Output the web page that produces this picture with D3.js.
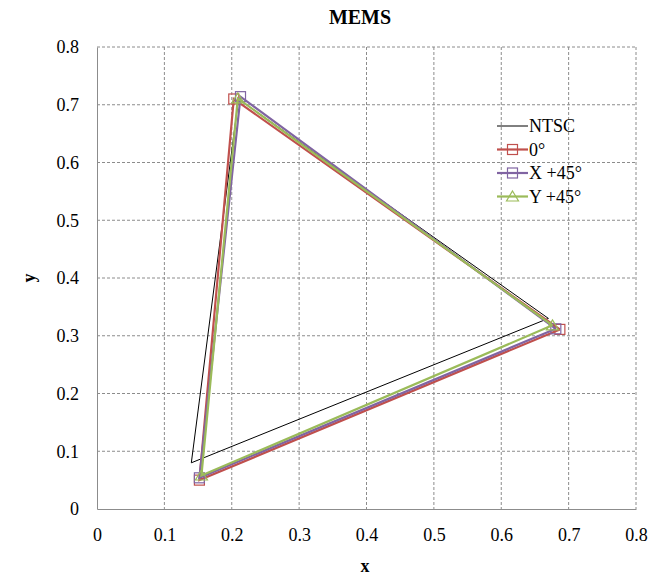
<!DOCTYPE html>
<html>
<head>
<meta charset="utf-8">
<script src="https://cdn.jsdelivr.net/npm/d3@7"></script>
<style>
  body { margin: 0; background: #fff; }
  svg text { font-family: 'Liberation Serif', 'Times New Roman', serif !important; }
</style>
</head>
<body>
<div id="chart"></div>
<script>
// chromaticity points, each triangle closed back to its first vertex
const seriesNames = ['NTSC', '0°', 'X +45°', 'Y +45°']
const ntscX = [0.67, 0.21, 0.14, 0.67]
const ntscY = [0.33, 0.71, 0.08, 0.33]
const deg0X = [0.687, 0.203, 0.152, 0.687]
const deg0Y = [0.311, 0.710, 0.050, 0.311]
const xPlusX = [0.681, 0.213, 0.152, 0.681]
const xPlusY = [0.312, 0.714, 0.054, 0.312]
const yPlusX = [0.676, 0.209, 0.155, 0.676]
const yPlusY = [0.318, 0.711, 0.058, 0.318]
const xTicks = [0, 0.1, 0.2, 0.3, 0.4, 0.5, 0.6, 0.7, 0.8]
const yTicks = [0, 0.1, 0.2, 0.3, 0.4, 0.5, 0.6, 0.7, 0.8]

const width = 648
const height = 578
const MARGIN = { left: 97, right: 12, top: 47, bottom: 69 }
const innerWidth = width - MARGIN.left - MARGIN.right
const innerHeight = height - MARGIN.top - MARGIN.bottom

const series = [
  { name: seriesNames[0], xs: ntscX, ys: ntscY, color: '#000000', width: 1, marker: null },
  { name: seriesNames[1], xs: deg0X, ys: deg0Y, color: '#C0504D', width: 2.2, marker: 'square' },
  { name: seriesNames[2], xs: xPlusX, ys: xPlusY, color: '#8064A2', width: 2.2, marker: 'square' },
  { name: seriesNames[3], xs: yPlusX, ys: yPlusY, color: '#9BBB59', width: 2.2, marker: 'triangle' }
]

const svg = d3.select('#chart').append('svg')
  .attr('width', width)
  .attr('height', height)

// Title
svg.append('text')
  .attr('x', 360)
  .attr('y', 24)
  .attr('text-anchor', 'middle')
  .style('font-size', '20px')
  .style('font-weight', 'bold')
  .text('MEMS')

const g = svg.append('g')
  .attr('transform', `translate(${MARGIN.left},${MARGIN.top})`)

const xScale = d3.scaleLinear().domain([0, 0.8]).range([0, innerWidth])
const yScale = d3.scaleLinear().domain([0, 0.8]).range([innerHeight, 0])

// Grid (dashed)
g.append('g').selectAll('line')
  .data(xTicks.slice(1))
  .join('line')
  .attr('x1', d => xScale(d)).attr('x2', d => xScale(d))
  .attr('y1', 0).attr('y2', innerHeight)
  .attr('stroke', '#8c8c8c')
  .attr('stroke-dasharray', '3,2')

g.append('g').selectAll('line')
  .data(yTicks.slice(1))
  .join('line')
  .attr('x1', 0).attr('x2', innerWidth)
  .attr('y1', d => yScale(d)).attr('y2', d => yScale(d))
  .attr('stroke', '#8c8c8c')
  .attr('stroke-dasharray', '3,2')

// Axes
const xAxis = g.append('g')
  .attr('transform', `translate(0,${innerHeight})`)
  .call(d3.axisBottom(xScale).tickValues(xTicks).tickSize(0).tickPadding(19).tickFormat(d3.format('')))
const yAxis = g.append('g')
  .call(d3.axisLeft(yScale).tickValues(yTicks).tickSize(0).tickPadding(18).tickFormat(d3.format('')))

;[xAxis, yAxis].forEach(ax => {
  ax.attr('font-family', null).attr('font-size', null)
  ax.select('.domain').attr('stroke', '#8c8c8c')
  ax.selectAll('text')
    .style('font-size', '18px')
    .attr('fill', '#000')
})

// Axis titles
svg.append('text')
  .attr('x', 365)
  .attr('y', 572)
  .attr('text-anchor', 'middle')
  .style('font-size', '18px')
  .style('font-weight', 'bold')
  .text('x')

svg.append('text')
  .attr('transform', `translate(35,${MARGIN.top + innerHeight / 2}) rotate(-90)`)
  .attr('text-anchor', 'middle')
  .style('font-size', '18px')
  .style('font-weight', 'bold')
  .text('y')

// Lines
const line = d3.line()
  .x(d => xScale(d[0]))
  .y(d => yScale(d[1]))

const drawMarker = (sel, type, color, cx, cy) => {
  if (type === 'square') {
    sel.append('rect')
      .attr('x', cx - 5).attr('y', cy - 5)
      .attr('width', 10).attr('height', 10)
      .attr('fill', 'none')
      .attr('stroke', color)
      .attr('stroke-width', 1.2)
  } else if (type === 'triangle') {
    sel.append('path')
      .attr('d', `M${cx},${cy - 5.5}L${cx + 6},${cy + 4.5}L${cx - 6},${cy + 4.5}Z`)
      .attr('fill', 'none')
      .attr('stroke', color)
      .attr('stroke-width', 1.2)
  }
}

series.forEach(s => {
  const pts = s.xs.map((x, i) => [x, s.ys[i]])
  g.append('path')
    .datum(pts)
    .attr('d', line)
    .attr('fill', 'none')
    .attr('stroke', s.color)
    .attr('stroke-width', s.width)
    .attr('stroke-linejoin', 'miter')
  if (s.marker) {
    const mg = g.append('g')
    pts.slice(0, 3).forEach(p => drawMarker(mg, s.marker, s.color, xScale(p[0]), yScale(p[1])))
  }
})

// Legend
const legend = svg.append('g').attr('transform', 'translate(497,126)')
series.forEach((s, i) => {
  const row = legend.append('g').attr('transform', `translate(0,${i * 23.5})`)
  row.append('line')
    .attr('x1', 0).attr('x2', 31)
    .attr('y1', 0).attr('y2', 0)
    .attr('stroke', s.color)
    .attr('stroke-width', s.width)
  if (s.marker) drawMarker(row, s.marker, s.color, 15.5, 0)
  row.append('text')
    .attr('x', 32)
    .attr('y', 6)
    .style('font-size', '18px')
    .text(s.name)
})
</script>
</body>
</html>
